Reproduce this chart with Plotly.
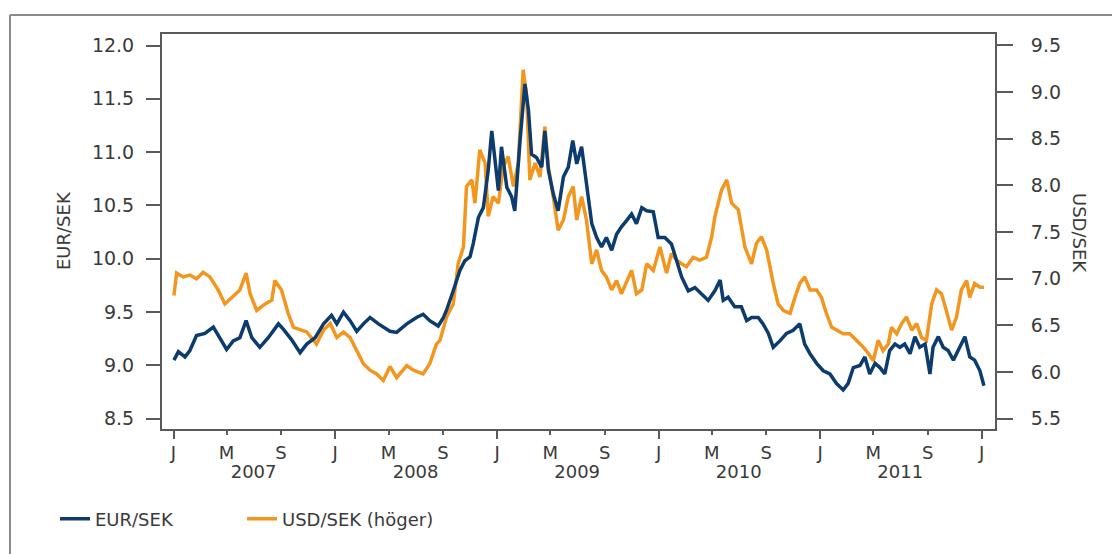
import plotly.graph_objects as go

# ---------------- data ----------------
eur_dates = [
    "2007-01-02", "2007-01-12", "2007-01-27", "2007-02-07", "2007-02-22", "2007-03-13",
    "2007-04-01", "2007-04-20", "2007-05-01", "2007-05-16", "2007-05-31", "2007-06-14",
    "2007-06-27", "2007-07-15", "2007-08-03", "2007-08-26", "2007-09-06", "2007-09-25",
    "2007-10-14", "2007-10-29", "2007-11-17", "2007-12-06", "2007-12-24", "2008-01-05",
    "2008-01-20", "2008-02-04", "2008-02-19", "2008-03-05", "2008-03-20", "2008-04-08",
    "2008-05-04", "2008-05-19", "2008-06-11", "2008-07-03", "2008-07-18", "2008-08-02",
    "2008-08-21", "2008-09-02", "2008-09-09", "2008-09-24", "2008-10-09", "2008-10-20",
    "2008-11-01", "2008-11-08", "2008-11-20", "2008-12-01", "2008-12-12", "2008-12-20",
    "2008-12-27", "2009-01-04", "2009-01-11", "2009-01-23", "2009-02-03", "2009-02-10",
    "2009-02-22", "2009-03-05", "2009-03-13", "2009-03-20", "2009-03-31", "2009-04-12",
    "2009-04-19", "2009-04-27", "2009-05-08", "2009-05-19", "2009-05-31", "2009-06-11",
    "2009-06-21", "2009-06-30", "2009-07-11", "2009-07-22", "2009-08-03", "2009-08-14",
    "2009-08-25", "2009-09-05", "2009-09-17", "2009-09-28", "2009-10-09", "2009-10-21",
    "2009-11-01", "2009-11-12", "2009-11-24", "2009-12-05", "2009-12-20", "2009-12-31",
    "2010-01-15", "2010-01-30", "2010-02-11", "2010-02-22", "2010-03-09", "2010-03-24",
    "2010-04-08", "2010-04-23", "2010-05-08", "2010-05-20", "2010-05-27", "2010-06-07",
    "2010-06-22", "2010-07-07", "2010-07-19", "2010-07-30", "2010-08-14", "2010-08-25",
    "2010-09-06", "2010-09-17", "2010-10-02", "2010-10-17", "2010-11-01", "2010-11-16",
    "2010-11-27", "2010-12-09", "2010-12-24", "2011-01-08", "2011-01-23", "2011-02-07",
    "2011-02-22", "2011-03-05", "2011-03-17", "2011-04-01", "2011-04-12", "2011-04-23",
    "2011-05-05", "2011-05-16", "2011-05-27", "2011-06-07", "2011-06-19", "2011-06-30",
    "2011-07-11", "2011-07-23", "2011-08-03", "2011-08-14", "2011-08-26", "2011-09-06",
    "2011-09-13", "2011-09-25", "2011-10-06", "2011-10-17", "2011-10-29", "2011-11-09",
    "2011-11-24", "2011-12-05", "2011-12-16", "2011-12-28", "2012-01-06",
]
eur_values = [
    9.05, 9.13, 9.08, 9.14, 9.28, 9.30,
    9.36, 9.23, 9.15, 9.23, 9.26, 9.42,
    9.26, 9.17, 9.26, 9.39, 9.34, 9.24,
    9.12, 9.20, 9.26, 9.39, 9.47, 9.39,
    9.50, 9.42, 9.32, 9.39, 9.45, 9.39,
    9.32, 9.31, 9.39, 9.45, 9.48, 9.42,
    9.37, 9.45, 9.52, 9.70, 9.89, 9.98,
    10.02, 10.14, 10.39, 10.48, 10.83, 11.20,
    10.95, 10.64, 11.05, 10.67, 10.58, 10.45,
    11.11, 11.64, 11.39, 10.98, 10.95, 10.86,
    11.20, 10.83, 10.61, 10.45, 10.77, 10.86,
    11.11, 10.89, 11.05, 10.73, 10.33, 10.20,
    10.11, 10.20, 10.08, 10.23, 10.30, 10.36,
    10.42, 10.33, 10.48, 10.45, 10.44, 10.20,
    10.20, 10.14, 9.98, 9.83, 9.70, 9.73,
    9.67, 9.61, 9.70, 9.80, 9.61, 9.64,
    9.55, 9.55, 9.42, 9.45, 9.45, 9.39,
    9.30, 9.17, 9.23, 9.30, 9.33, 9.39,
    9.20, 9.11, 9.02, 8.95, 8.92, 8.83,
    8.77, 8.83, 8.98, 9.00, 9.08, 8.92,
    9.02, 8.98, 8.92, 9.14, 9.20, 9.17,
    9.20, 9.11, 9.27, 9.17, 9.20, 8.92,
    9.17, 9.27, 9.17, 9.14, 9.05, 9.14,
    9.27, 9.08, 9.05, 8.95, 8.81,
]

usd_dates = [
    "2007-01-02", "2007-01-08", "2007-01-23", "2007-02-07", "2007-02-22", "2007-03-09",
    "2007-03-24", "2007-04-12", "2007-04-27", "2007-05-12", "2007-05-31", "2007-06-14",
    "2007-06-23", "2007-07-08", "2007-07-27", "2007-08-11", "2007-08-18", "2007-09-02",
    "2007-09-17", "2007-09-29", "2007-10-14", "2007-10-29", "2007-11-20", "2007-12-06",
    "2007-12-21", "2008-01-05", "2008-01-20", "2008-02-04", "2008-02-19", "2008-03-05",
    "2008-03-20", "2008-04-04", "2008-04-19", "2008-05-04", "2008-05-19", "2008-06-11",
    "2008-06-26", "2008-07-18", "2008-08-02", "2008-08-17", "2008-08-25", "2008-09-09",
    "2008-09-24", "2008-10-05", "2008-10-17", "2008-10-24", "2008-11-05", "2008-11-12",
    "2008-11-23", "2008-12-05", "2008-12-12", "2008-12-23", "2009-01-04", "2009-01-15",
    "2009-01-26", "2009-02-07", "2009-02-18", "2009-03-01", "2009-03-09", "2009-03-16",
    "2009-03-28", "2009-04-08", "2009-04-19", "2009-04-27", "2009-05-08", "2009-05-19",
    "2009-05-31", "2009-06-11", "2009-06-22", "2009-06-30", "2009-07-11", "2009-07-22",
    "2009-08-03", "2009-08-14", "2009-08-25", "2009-09-05", "2009-09-17", "2009-09-28",
    "2009-10-09", "2009-10-21", "2009-11-01", "2009-11-12", "2009-11-24", "2009-12-05",
    "2009-12-20", "2010-01-04", "2010-01-19", "2010-01-30", "2010-02-11", "2010-02-22",
    "2010-03-05", "2010-03-20", "2010-04-04", "2010-04-19", "2010-05-01", "2010-05-08",
    "2010-05-23", "2010-06-04", "2010-06-15", "2010-06-30", "2010-07-15", "2010-07-30",
    "2010-08-10", "2010-08-21", "2010-09-02", "2010-09-17", "2010-09-28", "2010-10-10",
    "2010-10-25", "2010-11-05", "2010-11-16", "2010-11-27", "2010-12-09", "2010-12-24",
    "2011-01-04", "2011-01-15", "2011-01-27", "2011-02-07", "2011-02-22", "2011-03-09",
    "2011-03-24", "2011-04-08", "2011-04-20", "2011-05-01", "2011-05-12", "2011-05-23",
    "2011-06-04", "2011-06-11", "2011-06-23", "2011-07-04", "2011-07-15", "2011-07-27",
    "2011-08-07", "2011-08-18", "2011-08-29", "2011-09-10", "2011-09-21", "2011-10-02",
    "2011-10-13", "2011-10-25", "2011-11-05", "2011-11-16", "2011-11-28", "2011-12-05",
    "2011-12-16", "2011-12-28", "2012-01-06",
]
usd_values = [
    6.82, 7.06, 7.02, 7.04, 7.00, 7.07,
    7.02, 6.88, 6.73, 6.80, 6.88, 7.06,
    6.84, 6.66, 6.73, 6.77, 6.98, 6.88,
    6.63, 6.48, 6.45, 6.43, 6.30, 6.45,
    6.52, 6.37, 6.43, 6.37, 6.23, 6.09,
    6.02, 5.98, 5.91, 6.06, 5.94, 6.07,
    6.02, 5.98, 6.09, 6.30, 6.34, 6.59,
    6.73, 7.16, 7.34, 7.99, 8.06, 7.81,
    8.38, 8.24, 7.67, 7.88, 7.81, 8.20,
    8.31, 7.99, 8.24, 9.24, 8.96, 8.06,
    8.24, 8.09, 8.63, 8.20, 7.88, 7.52,
    7.63, 7.88, 7.99, 7.63, 7.88, 7.63,
    7.16, 7.31, 7.09, 7.02, 6.88, 6.98,
    6.84, 6.98, 7.09, 6.84, 6.88, 7.16,
    7.09, 7.34, 7.06, 7.27, 7.20, 7.16,
    7.13, 7.23, 7.20, 7.23, 7.45, 7.66,
    7.95, 8.06, 7.81, 7.74, 7.34, 7.16,
    7.38, 7.45, 7.31, 6.95, 6.73, 6.66,
    6.63, 6.80, 6.95, 7.02, 6.88, 6.88,
    6.80, 6.63, 6.48, 6.45, 6.41, 6.41,
    6.34, 6.27, 6.20, 6.12, 6.34, 6.23,
    6.30, 6.48, 6.41, 6.52, 6.59, 6.45,
    6.52, 6.37, 6.34, 6.73, 6.88, 6.84,
    6.66, 6.45, 6.59, 6.88, 6.98, 6.80,
    6.95, 6.91, 6.91,
]

years = [2007, 2008, 2009, 2010, 2011]
tick_letters = {1: "J", 5: "M", 9: "S"}
series_names = ["EUR/SEK", "USD/SEK (höger)"]
left_title = "EUR/SEK"
right_title = "USD/SEK"

# ---------------- style ----------------
BLUE = "#0c3c6e"
ORANGE = "#f2961f"
AXIS = "#5a5a5a"
TEXT = "#3a3a3a"
FONT = "DejaVu Sans"

x_range = ["2006-12-06", "2012-01-31"]

month_ticks, month_text = [], []
for yr in years + [2012]:
    for m in (1, 5, 9):
        if yr == 2012 and m > 1:
            continue
        month_ticks.append(f"{yr}-{m:02d}-01")
        month_text.append(tick_letters[m])
jan_ticks = [f"{yr}-01-01" for yr in years + [2012]]
mid_ticks = [f"{yr}-07-01" for yr in years]

fig = go.Figure()
fig.add_trace(go.Scatter(
    x=usd_dates, y=usd_values, name=series_names[1], xaxis="x", yaxis="y",
    mode="lines", line=dict(color=ORANGE, width=3.5), legend="legend2",
))
fig.add_trace(go.Scatter(
    x=eur_dates, y=eur_values, name=series_names[0], xaxis="x2", yaxis="y2",
    mode="lines", line=dict(color=BLUE, width=3.5), legend="legend",
))

# page body adds an 8px offset; figure is sized so the plot lands where the reference has it
OFF = 8
W, H = 1120 - OFF, 554 - OFF
L, R, T, B = 162 - OFF, 125, 34 - OFF, 125
pw, ph = W - L - R, H - T - B

def px(xs):
    return (xs - OFF - L) / pw

def py(ys):
    return (H - B - (ys - OFF)) / ph

legend_common = dict(
    orientation="h", xref="container", yref="container",
    y=1 - (519 - OFF) / H, xanchor="left", yanchor="middle",
    font=dict(size=18, color=TEXT), bgcolor="rgba(0,0,0,0)", itemwidth=30,
)

fig.update_layout(
    width=W, height=H,
    margin=dict(l=L, r=R, t=T, b=B, autoexpand=False),
    paper_bgcolor="white", plot_bgcolor="white",
    font=dict(family=FONT, size=18, color=TEXT),
    showlegend=True,
    legend=dict(x=(55 - OFF) / W, **legend_common),
    legend2=dict(x=(242 - OFF) / W, **legend_common),
    xaxis=dict(
        type="date", range=x_range, tickmode="array",
        tickvals=month_ticks, ticktext=month_text,
        ticks="outside", ticklen=4, tickwidth=2, tickcolor=AXIS,
        showline=True, linecolor=AXIS, linewidth=2, mirror=True,
        showgrid=False, zeroline=False, ticklabelstandoff=2,
        tickfont=dict(size=18, color=TEXT),
    ),
    xaxis2=dict(
        type="date", range=x_range, overlaying="x", anchor="y", side="bottom",
        tickmode="array", tickvals=mid_ticks, ticktext=[str(y) for y in years],
        ticks="", showline=False, showgrid=False, zeroline=False,
        ticklabelstandoff=30, tickfont=dict(size=18, color=TEXT),
        minor=dict(tickmode="array", tickvals=jan_ticks, ticks="outside",
                   ticklen=9, tickwidth=2, tickcolor=AXIS, showgrid=False),
    ),
    yaxis=dict(
        side="right", range=[5.39, 9.623], tick0=5.5, dtick=0.5, tickformat=".1f",
        ticks="outside", ticklen=16, tickwidth=2, tickcolor=AXIS,
        showline=True, linecolor=AXIS, linewidth=2, mirror=True,
        showgrid=False, zeroline=False, ticklabelstandoff=14,
        tickfont=dict(size=19, color=TEXT),
    ),
    yaxis2=dict(
        side="left", overlaying="y", range=[8.404, 12.108], tick0=8.5, dtick=0.5,
        tickformat=".1f", ticks="outside", ticklen=15, tickwidth=2, tickcolor=AXIS,
        showline=False, showgrid=False, zeroline=False, ticklabelstandoff=8,
        tickfont=dict(size=19, color=TEXT),
    ),
    annotations=[
        dict(text=left_title, xref="paper", yref="paper", x=px(63), y=py(231),
             textangle=-90, showarrow=False, font=dict(size=18, color=TEXT),
             xanchor="center", yanchor="middle"),
        dict(text=right_title, xref="paper", yref="paper", x=px(1080), y=py(233),
             textangle=90, showarrow=False, font=dict(size=18, color=TEXT),
             xanchor="center", yanchor="middle"),
    ],
    shapes=[
        dict(type="line", xref="paper", yref="paper", x0=px(10), x1=px(1120),
             y0=py(15), y1=py(15), line=dict(color="#8a8a8a", width=2)),
        dict(type="line", xref="paper", yref="paper", x0=px(10), x1=px(10),
             y0=py(15), y1=py(554), line=dict(color="#8a8a8a", width=2)),
    ],
)

fig.write_html("out.html")
